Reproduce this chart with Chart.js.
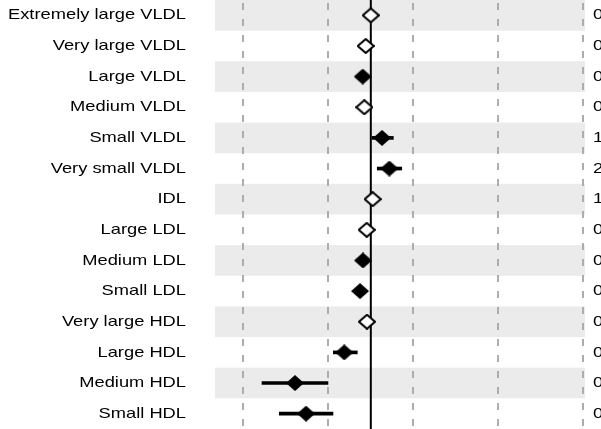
<!DOCTYPE html>
<html>
<head>
<meta charset="utf-8">
<script src="https://cdn.jsdelivr.net/npm/chart.js@4.4.0/dist/chart.umd.min.js"></script>
<style>
  html, body { margin: 0; padding: 0; background: #fff; }
  canvas { display: block; }
</style>
</head>
<body>
<canvas id="forest" width="601" height="429"></canvas>
<script>
// Forest plot of lipoprotein subclasses

const rowLabels = [
    'Extremely large VLDL', 'Very large VLDL', 'Large VLDL', 'Medium VLDL',
    'Small VLDL', 'Very small VLDL', 'IDL', 'Large LDL', 'Medium LDL',
    'Small LDL', 'Very large HDL', 'Large HDL', 'Medium HDL', 'Small HDL'
];
const estimates = [0.000, -0.006, -0.0095, -0.0076, 0.0132, 0.0218, 0.0022,
    -0.0048, -0.0092, -0.0127, -0.0045, -0.0312, -0.0892, -0.0762];
const ciLow = [null, null, null, null, 0.0014, 0.0076, null,
    null, null, null, null, -0.0441, -0.128, -0.1076];
const ciHigh = [null, null, null, null, 0.0265, 0.0364, null,
    null, null, null, null, -0.0159, -0.0504, -0.0445];
const significant = [false, false, true, false, true, true, false,
    false, true, true, false, true, true, true];
const rightText = ['0', '0', '0', '0', '1', '2', '1', '0', '0', '0', '0', '0', '0', '0'];
const gridTicks = [-0.15, -0.05, 0.05, 0.15, 0.25];

document.addEventListener('DOMContentLoaded', () => {
    const FONT = '"Liberation Sans", Arial, sans-serif';
    const STRETCH = 1.22; // labels in the source are drawn wide

    function diamond(w, h, fill, lw) {
        const c = document.createElement('canvas');
        c.width = w;
        c.height = h;
        const g = c.getContext('2d');
        const p = lw / 2;
        g.beginPath();
        g.moveTo(w / 2, p);
        g.lineTo(w - p, h / 2);
        g.lineTo(w / 2, h - p);
        g.lineTo(p, h / 2);
        g.closePath();
        g.fillStyle = fill;
        g.fill();
        if (lw) {
            g.lineWidth = lw;
            g.strokeStyle = '#000';
            g.stroke();
        }
        return c;
    }

    const filledPts = [];
    const openPts = [];
    const ciBars = [];
    estimates.forEach((v, i) => {
        (significant[i] ? filledPts : openPts).push({ x: v, y: i });
        if (ciLow[i] !== null) ciBars.push({ y: i, x: [ciLow[i], ciHigh[i]] });
    });

    // grey bands behind every other row
    const stripes = {
        id: 'stripes',
        beforeDraw(chart) {
            const { ctx, chartArea, scales } = chart;
            ctx.save();
            ctx.fillStyle = '#ebebeb';
            rowLabels.forEach((_, i) => {
                if (i % 2) return;
                const top = scales.y.getPixelForValue(i - 0.5);
                const bot = scales.y.getPixelForValue(i + 0.5);
                ctx.fillRect(chartArea.left, top, chartArea.right - chartArea.left, bot - top);
            });
            ctx.restore();
        }
    };

    function wideText(ctx, text, x, y, align) {
        ctx.save();
        ctx.translate(x, y);
        ctx.scale(STRETCH, 1);
        ctx.textAlign = align;
        ctx.fillText(text, 0, 0);
        ctx.restore();
    }

    // row labels on the left and the clipped column on the right
    const textColumns = {
        id: 'textColumns',
        afterDraw(chart) {
            const { ctx, chartArea, scales } = chart;
            ctx.save();
            ctx.font = '15px ' + FONT;
            ctx.fillStyle = '#000';
            ctx.textBaseline = 'middle';
            rowLabels.forEach((t, i) => {
                wideText(ctx, t, chartArea.left - 29, scales.y.getPixelForValue(i), 'right');
            });
            rightText.forEach((t, i) => {
                wideText(ctx, t, chartArea.right + 8, scales.y.getPixelForValue(i), 'left');
            });
            ctx.restore();
        }
    };

    new Chart(document.getElementById('forest'), {
        type: 'scatter',
        data: {
            datasets: [
                {
                    type: 'line',
                    data: [{ x: 0, y: -0.5 }, { x: 0, y: rowLabels.length - 0.5 }],
                    borderColor: '#000',
                    borderWidth: 2,
                    pointRadius: 0,
                    order: 3
                },
                {
                    type: 'bar',
                    indexAxis: 'y',
                    data: ciBars,
                    backgroundColor: '#000',
                    borderWidth: 0,
                    barThickness: 3,
                    order: 2
                },
                {
                    data: filledPts,
                    pointStyle: diamond(18, 16, '#000', 0),
                    order: 1
                },
                {
                    data: openPts,
                    pointStyle: diamond(18, 16, '#fff', 2),
                    order: 0
                }
            ]
        },
        options: {
            responsive: false,
            animation: false,
            layout: { autoPadding: false, padding: { left: 0, right: 16, top: 0, bottom: -2 } },
            plugins: {
                legend: { display: false },
                tooltip: { enabled: false }
            },
            scales: {
                x: {
                    type: 'linear',
                    min: -0.1833,
                    max: 0.252,
                    offset: false,
                    afterBuildTicks: (s) => { s.ticks = gridTicks.map(v => ({ value: v })); },
                    ticks: { display: false },
                    grid: { color: '#adadad', lineWidth: 2, drawTicks: false },
                    border: { display: false, dash: [7, 9], dashOffset: 13 }
                },
                y: {
                    type: 'linear',
                    reverse: true,
                    min: -0.5,
                    max: rowLabels.length - 0.5,
                    offset: false,
                    afterBuildTicks: (s) => { s.ticks = rowLabels.map((_, i) => ({ value: i })); },
                    afterFit: (s) => { s.width = 215; s.paddingTop = 0; s.paddingBottom = 0; },
                    ticks: { display: false },
                    grid: { display: false, drawTicks: false },
                    border: { display: false }
                }
            }
        },
        plugins: [stripes, textColumns]
    });
});
</script>
</body>
</html>
